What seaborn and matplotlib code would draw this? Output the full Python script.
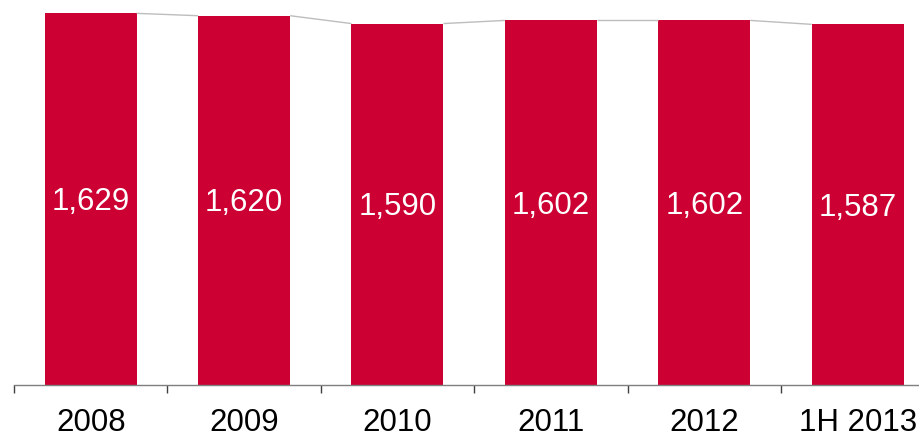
import matplotlib
matplotlib.use("Agg")
import matplotlib.pyplot as plt
import seaborn as sns
import pandas as pd

# Data
periods = ["2008", "2009", "2010", "2011", "2012", "1H 2013"]
employees = [1629, 1620, 1590, 1602, 1602, 1587]
value_labels = ["1,629", "1,620", "1,590", "1,602", "1,602", "1,587"]

sns.set_theme(style="white")
plt.rcParams["font.family"] = ["Liberation Sans", "DejaVu Sans"]

bar_color = "#CC0033"
bar_width = 0.6
y_floor = 212
y_ceil = 1680

df = pd.DataFrame({"period": periods, "value": employees})

fig = plt.figure(figsize=(9.19, 4.36), dpi=100)
ax = fig.add_axes([14 / 919, 51.5 / 436, 905 / 919, 384.5 / 436])

sns.barplot(data=df, x="period", y="value", color=bar_color, saturation=1,
            width=bar_width, linewidth=0, ax=ax)

ax.set_ylim(y_floor, y_ceil)
ax.set_xlim(-0.5, 5.4)

# thin connectors between neighbouring bar tops
half = bar_width / 2
for i in range(len(employees) - 1):
    ax.plot([i + half, i + 1 - half], [employees[i], employees[i + 1]],
            color="#BDBDBD", lw=1.0, solid_capstyle="butt", zorder=1)

# value labels centred in each bar (baseline set slightly below the middle)
baseline_shift = 43
for i, (v, lab) in enumerate(zip(employees, value_labels)):
    ax.text(i, (y_floor + v) / 2 - baseline_shift, lab, ha="center",
            va="baseline", color="white", fontsize=22.5)

# axis styling
for side in ["top", "right", "left"]:
    ax.spines[side].set_visible(False)
ax.spines["bottom"].set_color("#7F7F7F")
ax.spines["bottom"].set_linewidth(1.0)
ax.set_yticks([])
ax.set_xlabel("")
ax.set_ylabel("")
ax.set_xticks(range(len(periods)))
ax.set_xticklabels(periods, fontsize=22.5, color="black")
ax.tick_params(axis="x", which="major", length=0, pad=17)
ax.set_xticks([i - 0.5 for i in range(len(periods))], minor=True)
ax.tick_params(axis="x", which="minor", length=6, width=1.0,
               color="#404040", direction="out", bottom=True)

fig.savefig("out.png", dpi=100, facecolor="white")
